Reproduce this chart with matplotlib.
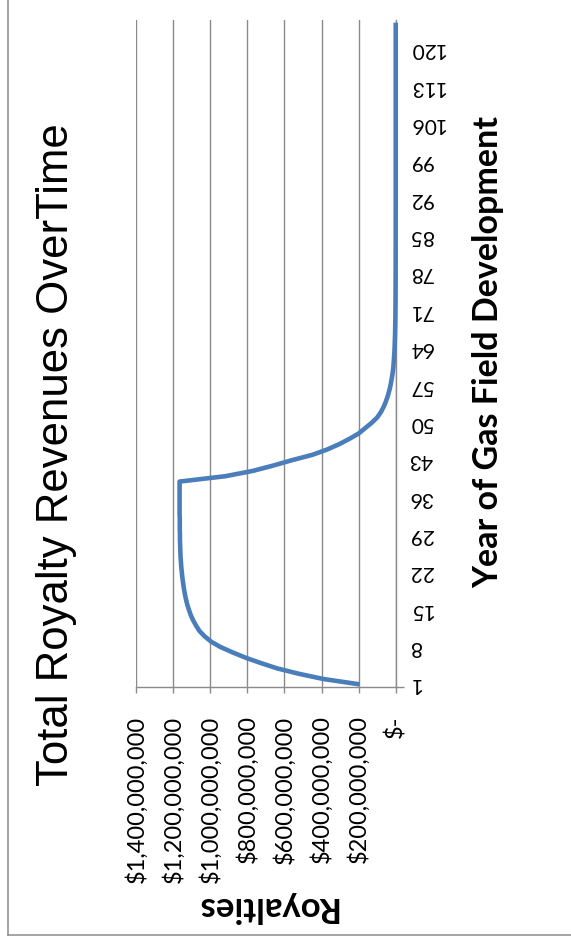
import matplotlib
matplotlib.use("Agg")
import matplotlib.pyplot as plt
from matplotlib.lines import Line2D

# royalty revenue per year of field development, in millions of dollars
years = list(range(1, 126))
royalties_musd = [
    195, 390, 525, 640, 728, 810, 880, 945, 995, 1030,
    1058, 1076, 1092, 1105, 1115, 1124, 1131, 1137, 1142, 1146,
    1150, 1153, 1156, 1158, 1160, 1161, 1162, 1163, 1163, 1164,
    1164, 1164, 1165, 1165, 1165, 1165, 1165, 1165, 1165, 919,
    770, 660, 560, 450, 370, 305, 250, 200, 165, 130,
    100, 80, 65, 53, 43, 35, 28, 23, 18, 14,
    11.5, 9.5, 7.5, 6, 5, 4, 3.2, 2.6, 2.1, 1.7,
    1.4, 1.1, 0.9, 0.7, 0.6, 0.5, 0.4, 0.3, 0.25, 0.2,
    0.15, 0.12, 0.1, 0.08, 0.06, 0.05, 0.04, 0.03, 0.02, 0.02,
    0.01, 0.01, 0.01, 0.01, 0.01, 0, 0, 0, 0, 0,
    0, 0, 0, 0, 0, 0, 0, 0, 0, 0,
    0, 0, 0, 0, 0, 0, 0, 0, 0, 0,
    0, 0, 0, 0, 0,
]
royalties = [v * 1e6 for v in royalties_musd]

value_ticks = [0, 200e6, 400e6, 600e6, 800e6, 1000e6, 1200e6, 1400e6]
value_labels = ["$-", "$200,000,000", "$400,000,000", "$600,000,000",
                "$800,000,000", "$1,000,000,000", "$1,200,000,000",
                "$1,400,000,000"]
year_ticks = list(range(1, 121, 7))
year_labels = [str(y) for y in year_ticks]

W, H = 571, 949
GRID = "#8a8a8a"
BLUE = "#4a7ebb"

fig = plt.figure(figsize=(W / 100, H / 100), dpi=100)
fig.patch.set_facecolor("white")

# chart is laid out turned on its side: years run up, money runs left
ax = fig.add_axes([136 / W, 262 / H, 259.7 / W, 667 / H])
ax.plot(royalties, years, color=BLUE, lw=3.3, solid_capstyle="butt",
        solid_joinstyle="round", clip_on=False, zorder=3)

ax.set_xlim(1.4e9, 0)
ax.set_ylim(0.5, 125.5)

ax.set_xticks(value_ticks)
ax.set_xticklabels(value_labels, rotation=90, va="top", ha="center",
                   family="Lato", fontsize=17)
ax.tick_params(axis="x", direction="out", length=4.5, width=1.0,
               color=GRID, pad=16)
ax.grid(axis="x", color=GRID, lw=1.0)
ax.set_axisbelow(True)

ax.yaxis.tick_right()
ax.set_yticks(year_ticks)
ax.set_yticklabels(year_labels, rotation=180, ha="left", va="center",
                   family="Lato", fontsize=15)
ax.tick_params(axis="y", which="major", length=0, pad=9.5)
ax.set_yticks([0.5], minor=True)
ax.tick_params(axis="y", which="minor", right=True, left=False,
               length=6, width=1.0, color=GRID)

for side in ("top", "left"):
    ax.spines[side].set_visible(False)
for side in ("bottom", "right"):
    ax.spines[side].set_color(GRID)
    ax.spines[side].set_linewidth(1.0)

fig.text(57 / W, 1 - 455 / H, "Total Royalty Revenues OverTime",
         rotation=90, ha="center", va="center", family="Liberation Sans",
         fontsize=31.5)
fig.text(488 / W, 1 - 352 / H, "Year of Gas Field Development",
         rotation=90, ha="center", va="center", family="Lato",
         fontweight="bold", fontsize=24.5)
fig.text(266 / W, 1 - 907 / H, "Royalties", rotation=180,
         ha="center", va="center", family="Lato", fontweight="bold",
         fontsize=25)

# chart frame, only the left and bottom edges fall inside the page
fig.add_artist(Line2D([8 / W, 8 / W], [14 / H, 1.0], color="#8c8c8c", lw=1.1))
fig.add_artist(Line2D([8 / W, 1.0], [14 / H, 14 / H], color="#8c8c8c", lw=1.1))

fig.savefig("out.png", dpi=100, facecolor="white")
